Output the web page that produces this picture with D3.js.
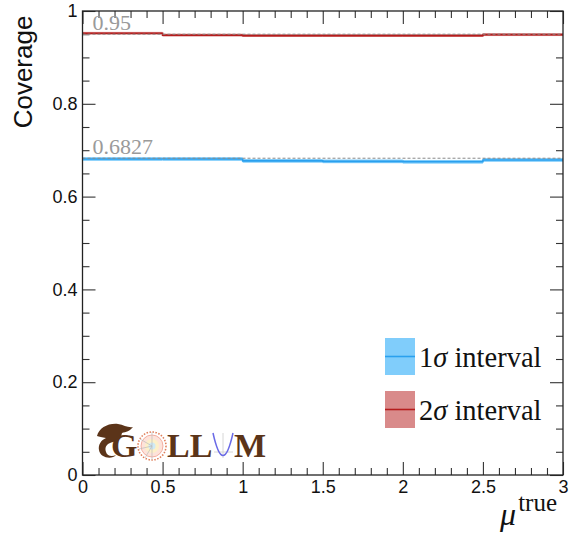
<!DOCTYPE html>
<html>
<head>
<meta charset="utf-8">
<script src="https://cdn.jsdelivr.net/npm/d3@7/dist/d3.min.js"></script>
<style>
  html, body { margin: 0; padding: 0; background: #fff; }
  svg { display: block; }
</style>
</head>
<body>
<svg id="chart" width="571" height="534"></svg>
<script>
// ---- data ----
const binEdges = [0, 0.5, 1, 1.5, 2, 2.5, 3];
const cov1sigma = [0.681, 0.681, 0.677, 0.676, 0.675, 0.679];
const err1sigma = [0.004, 0.004, 0.004, 0.004, 0.004, 0.004];
const cov2sigma = [0.952, 0.948, 0.947, 0.947, 0.947, 0.949];
const err2sigma = [0.003, 0.003, 0.003, 0.003, 0.003, 0.003];
const refLevels = [0.95, 0.6827];
const refLabels = ["0.95", "0.6827"];
const xMajorTicks = [0, 0.5, 1, 1.5, 2, 2.5, 3];
const xTickLabels = ["0", "0.5", "1", "1.5", "2", "2.5", "3"];
const yMajorTicks = [0, 0.2, 0.4, 0.6, 0.8, 1];
const yTickLabels = ["0", "0.2", "0.4", "0.6", "0.8", "1"];
const legendLabels = ["1", "2"];

// ---- layout ----
const L = 82.5, R = 563, T = 11, B = 475;
const svg = d3.select("#chart");
const x = d3.scaleLinear().domain([0, 3]).range([L, R]);
const y = d3.scaleLinear().domain([0, 1]).range([B, T]);

const xMinor = d3.range(0, 3.0001, 0.1).filter(v => Math.abs(v * 2 - Math.round(v * 2)) > 1e-6);
const yMinor = d3.range(0, 1.0001, 0.05).filter(v => Math.abs(v * 5 - Math.round(v * 5)) > 1e-6);

const sans = "'Liberation Sans', Arial, Helvetica, sans-serif";
const serif = "'Liberation Serif', 'Times New Roman', serif";

function styleAxis(g, showText) {
  g.select(".domain").remove();
  g.selectAll(".tick line").attr("stroke", "#333").attr("stroke-width", 1.1);
  g.selectAll(".tick text").attr("font-family", sans).attr("font-size", 18).attr("fill", "#111");
  if (!showText) g.selectAll(".tick text").remove();
}

// bottom axis
svg.append("g").attr("transform", `translate(0,${B})`)
  .call(d3.axisBottom(x).tickValues(xMajorTicks).tickFormat((d, i) => xTickLabels[i]).tickSizeInner(-13).tickSizeOuter(0).tickPadding(5))
  .call(g => styleAxis(g, true));
svg.append("g").attr("transform", `translate(0,${B})`)
  .call(d3.axisBottom(x).tickValues(xMinor).tickFormat("").tickSizeInner(-7).tickSizeOuter(0))
  .call(g => styleAxis(g, false));
// top axis
svg.append("g").attr("transform", `translate(0,${T})`)
  .call(d3.axisTop(x).tickValues(xMajorTicks).tickFormat("").tickSizeInner(-13).tickSizeOuter(0))
  .call(g => styleAxis(g, false));
svg.append("g").attr("transform", `translate(0,${T})`)
  .call(d3.axisTop(x).tickValues(xMinor).tickFormat("").tickSizeInner(-7).tickSizeOuter(0))
  .call(g => styleAxis(g, false));
// left axis
svg.append("g").attr("transform", `translate(${L},0)`)
  .call(d3.axisLeft(y).tickValues(yMajorTicks).tickFormat((d, i) => yTickLabels[i]).tickSizeInner(-13).tickSizeOuter(0).tickPadding(5))
  .call(g => styleAxis(g, true));
svg.append("g").attr("transform", `translate(${L},0)`)
  .call(d3.axisLeft(y).tickValues(yMinor).tickFormat("").tickSizeInner(-7).tickSizeOuter(0))
  .call(g => styleAxis(g, false));
// right axis
svg.append("g").attr("transform", `translate(${R},0)`)
  .call(d3.axisRight(y).tickValues(yMajorTicks).tickFormat("").tickSizeInner(-13).tickSizeOuter(0))
  .call(g => styleAxis(g, false));
svg.append("g").attr("transform", `translate(${R},0)`)
  .call(d3.axisRight(y).tickValues(yMinor).tickFormat("").tickSizeInner(-7).tickSizeOuter(0))
  .call(g => styleAxis(g, false));

// ---- series ----
const series = [
  { vals: cov1sigma, errs: err1sigma, band: "#80cdfb", line: "#2aa0ee" },
  { vals: cov2sigma, errs: err2sigma, band: "#d98a8a", line: "#b51d1d" }
];
const stepLine = d3.line().x(d => x(d[0])).y(d => y(d[1])).curve(d3.curveStepAfter);
series.forEach(s => {
  const bins = s.vals.map((v, i) => ({ x0: binEdges[i], x1: binEdges[i + 1], v, e: s.errs[i] }));
  svg.append("g").selectAll("rect").data(bins).join("rect")
    .attr("x", d => x(d.x0)).attr("width", d => x(d.x1) - x(d.x0))
    .attr("y", d => y(d.v + d.e)).attr("height", d => y(d.v - d.e) - y(d.v + d.e))
    .attr("fill", s.band);
  const pts = s.vals.map((v, i) => [binEdges[i], v]);
  pts.push([binEdges[binEdges.length - 1], s.vals[s.vals.length - 1]]);
  svg.append("path").attr("d", stepLine(pts)).attr("fill", "none")
    .attr("stroke", s.line).attr("stroke-width", 1.6);
});

// reference dashed lines + labels
refLevels.forEach((lv, i) => {
  svg.append("line").attr("x1", L).attr("x2", R).attr("y1", y(lv)).attr("y2", y(lv))
    .attr("stroke", "#8a8a8a").attr("stroke-width", 1).attr("stroke-dasharray", "3,2");
  svg.append("text").attr("x", L + 10).attr("y", y(lv) - 4)
    .attr("font-family", serif).attr("font-size", 22).attr("fill", "#9a9a9a")
    .text(refLabels[i]);
});

// frame
svg.append("rect").attr("x", L).attr("y", T).attr("width", R - L).attr("height", B - T)
  .attr("fill", "none").attr("stroke", "#222").attr("stroke-width", 1.3);

// axis titles
svg.append("text").attr("transform", `translate(32,72) rotate(-90)`)
  .attr("text-anchor", "middle").attr("font-family", sans).attr("font-size", 26).attr("fill", "#111")
  .text("Coverage");
const xt = svg.append("text").attr("x", 557).attr("y", 525).attr("text-anchor", "end")
  .attr("font-family", serif).attr("fill", "#111");
xt.append("tspan").attr("font-size", 32).attr("font-style", "italic").text("μ");
xt.append("tspan").attr("font-size", 25).attr("dy", -14).attr("dx", 2).text("true");

// ---- legend ----
const legY = [338, 391];
series.forEach((s, i) => {
  svg.append("rect").attr("x", 385).attr("y", legY[i]).attr("width", 30).attr("height", 37)
    .attr("fill", s.band);
  svg.append("line").attr("x1", 385).attr("x2", 415).attr("y1", legY[i] + 18.5).attr("y2", legY[i] + 18.5)
    .attr("stroke", s.line).attr("stroke-width", 1.6);
  const t = svg.append("text").attr("x", 419).attr("y", legY[i] + 29)
    .attr("font-family", serif).attr("font-size", 28.5).attr("fill", "#111");
  t.append("tspan").text(legendLabels[i]);
  t.append("tspan").attr("font-style", "italic").text("σ");
  t.append("tspan").text(" interval");
});

// ---- logo (GOLLUM) ----
const brown = "#5b3419";
const logo = svg.append("g");
logo.append("path")
  .attr("d", "M97,436 C99,428 108,423 118,424 C124,425 128,428 133,427 C130,431 126,432 122,433 C121,438 118,441 113,442 C108,443 104,446 106,452 C107,456 112,457 116,455 C112,460 100,458 99,450 C98,445 101,440 106,438 C102,437 99,437 97,436 Z")
  .attr("fill", brown);
logo.append("text").attr("x", 111).attr("y", 457).attr("font-family", serif).attr("font-weight", "bold")
  .attr("font-size", 34).attr("fill", brown).text("G");
// O: circular emblem
const cx = 152, cy = 446;
logo.append("circle").attr("cx", cx).attr("cy", cy).attr("r", 14).attr("fill", "#fff")
  .attr("stroke", "#e0805c").attr("stroke-width", 1.6).attr("stroke-dasharray", "1.5,1.5");
logo.append("circle").attr("cx", cx).attr("cy", cy).attr("r", 11).attr("fill", "#fde3da").attr("stroke", "#f0a090").attr("stroke-width", 0.8);
logo.append("circle").attr("cx", cx).attr("cy", cy).attr("r", 7).attr("fill", "#fdf0c8");
logo.append("circle").attr("cx", cx).attr("cy", cy).attr("r", 3.5).attr("fill", "#cfeaf6");
logo.append("path").attr("d", `M${cx},${cy} L${cx - 12},${cy - 7} M${cx},${cy} L${cx - 13},${cy + 3} M${cx},${cy} L${cx - 7},${cy + 12} M${cx},${cy - 14} L${cx},${cy + 14}`)
  .attr("stroke", "#bbb").attr("stroke-width", 0.7).attr("fill", "none");
logo.append("text").attr("x", 167).attr("y", 457).attr("font-family", serif).attr("font-weight", "bold")
  .attr("font-size", 34).attr("fill", brown).text("LL");
logo.append("path").attr("d", "M223,433 L223,458 M214,452 L233,452").attr("stroke", "#ccc").attr("stroke-width", 0.8);
logo.append("path").attr("d", "M213,433 Q223,478 233,433").attr("fill", "none").attr("stroke", "#6a6ae6").attr("stroke-width", 1.5);
logo.append("text").attr("x", 234).attr("y", 457).attr("font-family", serif).attr("font-weight", "bold")
  .attr("font-size", 34).attr("fill", brown).text("M");
</script>
</body>
</html>
